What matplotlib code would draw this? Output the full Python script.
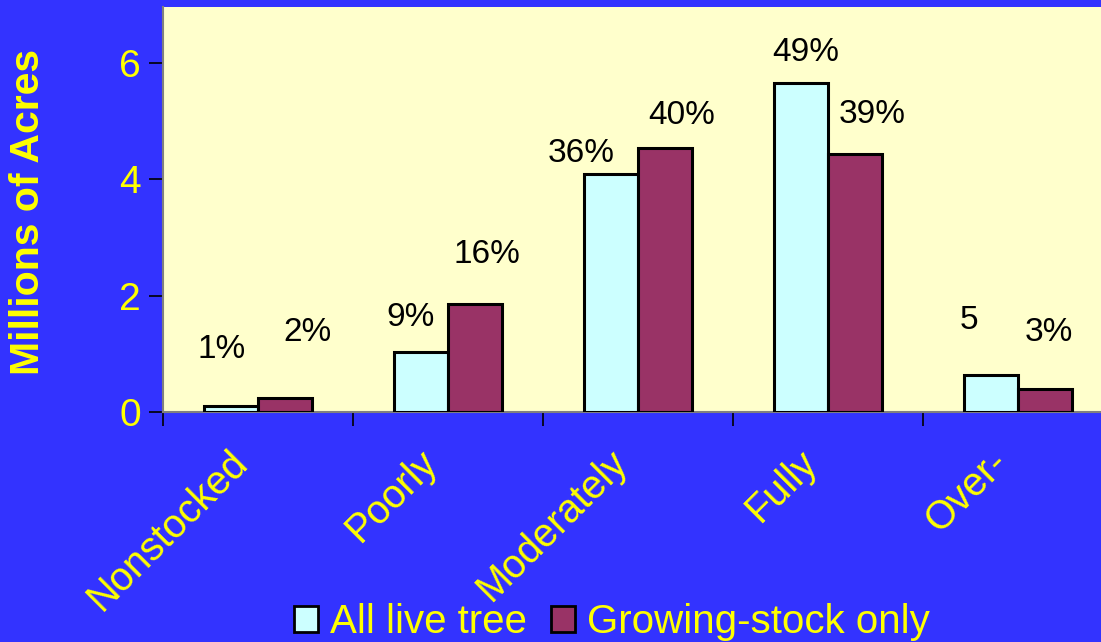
import matplotlib
matplotlib.use("Agg")
import matplotlib.pyplot as plt
import matplotlib.transforms as mtransforms
import numpy as np
from matplotlib.patches import Patch

categories = ["Nonstocked", "Poorly", "Moderately", "Fully", "Over-"]
all_live = [0.10, 1.03, 4.09, 5.66, 0.64]
growing = [0.24, 1.86, 4.54, 4.44, 0.40]
all_labels = ["1%", "9%", "36%", "49%", "5"]
grow_labels = ["2%", "16%", "40%", "39%", "3%"]
# label placement (data units)
all_lab_dx = [-0.19, -0.195, -0.30, -0.116, -0.26]
all_lab_y = [1.07, 1.62, 4.44, 6.17, 1.58]
grow_lab_dx = [0.26, 0.205, 0.23, 0.23, 0.163]
grow_lab_y = [1.36, 2.70, 5.10, 5.11, 1.36]
yticks = [0, 2, 4, 6]

BLUE = "#3333FF"
YELLOW = "#FFFF00"
plt.rcParams['font.family'] = ['Liberation Sans', 'DejaVu Sans']

fig = plt.figure(figsize=(11.01, 6.42), dpi=100, facecolor=BLUE)
ax = fig.add_axes([163/1101, (642-412)/642, (1113-163)/1101, (412-7)/642])
ax.set_facecolor("#FFFFCC")

x = np.arange(len(categories))
w = 0.284
ax.bar(x - w/2, all_live, w, color="#CCFFFF", edgecolor="black", linewidth=2.2, zorder=3)
ax.bar(x + w/2, growing, w, color="#993366", edgecolor="black", linewidth=2.2, zorder=3)

for i in range(len(categories)):
    ax.text(x[i] + all_lab_dx[i], all_lab_y[i], all_labels[i], ha="center", va="center",
            fontsize=24, color="black")
    ax.text(x[i] + grow_lab_dx[i], grow_lab_y[i], grow_labels[i], ha="center", va="center",
            fontsize=24, color="black")

ax.set_xlim(-0.5, len(categories) - 0.5)
ax.set_ylim(0, 6.96)
ax.set_yticks(yticks)
ax.set_yticklabels([str(v) for v in yticks], fontsize=28, color=YELLOW)
ax.tick_params(axis="y", length=10, width=1.2, color="black", pad=6)

ax.set_xticks(np.arange(len(categories) + 1) - 0.5)
ax.set_xticklabels([])
ax.tick_params(axis="x", length=10, width=1.2, color="black")
ax.set_xticks(x, minor=True)
labs = ax.set_xticklabels(categories, minor=True, rotation=45, ha="right", va="top",
                          rotation_mode="anchor", fontsize=28.5, color=YELLOW)
ax.tick_params(axis="x", which="minor", length=0, pad=4)
offset = mtransforms.ScaledTranslation(-0.30, -0.25, fig.dpi_scale_trans)
for lab in ax.get_xticklabels(minor=True):
    lab.set_transform(lab.get_transform() + offset)

for s in ["top", "right"]:
    ax.spines[s].set_visible(False)
ax.spines["left"].set_color("#808080")
ax.spines["left"].set_linewidth(1.5)
ax.spines["bottom"].set_color("#808080")
ax.spines["bottom"].set_linewidth(1.5)

fig.text(28/1101, 1 - 212/642, "Millions of Acres", rotation=90, ha="center", va="center",
         fontsize=29.5, fontweight="bold", color=YELLOW)

handles = [Patch(facecolor="#CCFFFF", edgecolor="black", linewidth=2),
           Patch(facecolor="#993366", edgecolor="black", linewidth=2)]
leg = fig.legend(handles, ["All live tree", "Growing-stock only"], loc="center",
                 bbox_to_anchor=(612/1101, 1 - 622/642), ncol=2, frameon=False,
                 fontsize=29, handlelength=0.6, handleheight=0.6, handletextpad=0.3,
                 columnspacing=0.6, labelcolor=YELLOW, borderpad=0)

fig.savefig("out.png", dpi=100, facecolor=BLUE)
